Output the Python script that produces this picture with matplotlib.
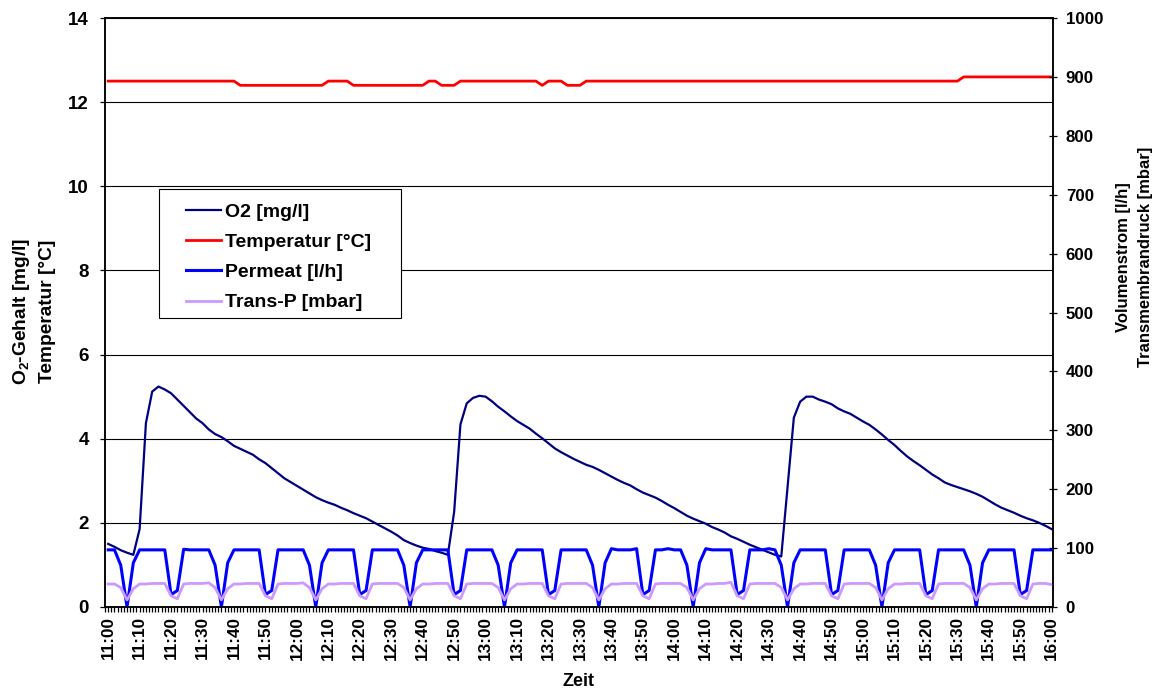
import matplotlib
matplotlib.use('Agg')
import matplotlib.pyplot as plt
import numpy as np
from matplotlib.ticker import MultipleLocator
from matplotlib.patches import Rectangle

plt.rcParams['font.family'] = ['Liberation Sans', 'DejaVu Sans']
plt.rcParams['font.weight'] = 'bold'
plt.rcParams['mathtext.fontset'] = 'custom'
plt.rcParams['mathtext.rm'] = 'Liberation Sans:bold'
plt.rcParams['mathtext.default'] = 'rm'

# logger samples, minutes after 11:00 (every 2 min)
sample_minutes = np.arange(0, 301, 2)

o2 = [1.50, 1.43, 1.35, 1.29, 1.24, 1.85, 4.37, 5.12, 5.24, 5.17, 5.08, 4.93, 4.78, 4.63, 4.48,
      4.37, 4.22, 4.11, 4.04, 3.94, 3.83, 3.76, 3.69, 3.62, 3.51, 3.42, 3.30, 3.18, 3.06, 2.97,
      2.88, 2.79, 2.70, 2.61, 2.54, 2.48, 2.43, 2.36, 2.30, 2.23, 2.17, 2.11, 2.03, 1.95, 1.87,
      1.79, 1.70, 1.59, 1.52, 1.46, 1.41, 1.38, 1.33, 1.29, 1.24, 2.26, 4.34, 4.84, 4.97, 5.02,
      5.00, 4.89, 4.76, 4.65, 4.53, 4.42, 4.33, 4.24, 4.12, 4.01, 3.89, 3.77, 3.68, 3.60, 3.52,
      3.45, 3.38, 3.33, 3.26, 3.18, 3.10, 3.02, 2.95, 2.89, 2.80, 2.72, 2.66, 2.60, 2.52, 2.43,
      2.35, 2.26, 2.17, 2.10, 2.04, 1.98, 1.90, 1.84, 1.77, 1.68, 1.62, 1.55, 1.48, 1.42, 1.36,
      1.30, 1.24, 1.20, 2.85, 4.50, 4.88, 5.00, 5.00, 4.93, 4.88, 4.82, 4.72, 4.65, 4.59, 4.50,
      4.41, 4.33, 4.22, 4.10, 3.97, 3.85, 3.71, 3.58, 3.47, 3.37, 3.26, 3.15, 3.06, 2.96, 2.90,
      2.85, 2.80, 2.75, 2.69, 2.62, 2.53, 2.44, 2.36, 2.30, 2.24, 2.17, 2.11, 2.06, 2.00, 1.93,
      1.85]

permeat = [97, 97, 71, 0, 75, 97, 97, 97, 97, 97, 21, 28, 98, 97, 97,
           97, 97, 71, 0, 75, 97, 97, 97, 97, 97, 21, 28, 97, 97, 97,
           97, 97, 71, 0, 75, 97, 97, 97, 97, 97, 21, 28, 97, 97, 97,
           97, 97, 71, 0, 75, 97, 97, 97, 97, 97, 21, 28, 97, 97, 97,
           97, 97, 71, 0, 75, 97, 97, 97, 97, 97, 21, 28, 97, 97, 97,
           97, 97, 71, 0, 75, 99, 97, 97, 97, 99, 21, 28, 97, 97, 99,
           97, 97, 71, 0, 75, 99, 97, 97, 97, 97, 21, 28, 97, 97, 97,
           99, 97, 71, 0, 75, 97, 97, 97, 97, 97, 21, 28, 97, 97, 97,
           97, 97, 71, 0, 75, 97, 97, 97, 97, 97, 21, 28, 97, 97, 97,
           97, 97, 71, 0, 75, 97, 97, 97, 97, 97, 21, 28, 97, 97, 97,
           97]

trans_p = [39, 39, 33, 12, 31, 39, 39, 40, 40, 40, 19, 14, 39, 40, 40,
           40, 41, 33, 12, 31, 39, 39, 40, 40, 40, 19, 14, 39, 40, 40,
           40, 41, 33, 12, 31, 39, 39, 40, 40, 40, 19, 14, 39, 40, 40,
           40, 40, 33, 12, 31, 39, 39, 40, 40, 40, 19, 14, 39, 40, 40,
           40, 40, 33, 12, 31, 39, 39, 40, 40, 40, 19, 14, 39, 40, 40,
           40, 40, 33, 12, 31, 39, 39, 40, 40, 40, 19, 14, 39, 40, 40,
           40, 40, 33, 12, 31, 39, 39, 40, 40, 42, 19, 14, 39, 40, 40,
           40, 40, 33, 12, 31, 39, 39, 40, 40, 40, 19, 14, 39, 40, 40,
           40, 40, 33, 12, 31, 39, 39, 40, 40, 40, 19, 14, 39, 40, 40,
           40, 40, 33, 12, 31, 39, 39, 40, 40, 40, 19, 14, 39, 40, 40,
           38]

temp_minutes = [0, 40, 42, 68, 70, 76, 78, 100, 102, 104, 106, 110, 112,
                136, 138, 140, 144, 146, 150, 152, 270, 272, 300]
temp_values = [12.5, 12.5, 12.4, 12.4, 12.5, 12.5, 12.4, 12.4, 12.5, 12.5, 12.4, 12.4, 12.5,
               12.5, 12.4, 12.5, 12.5, 12.4, 12.4, 12.5, 12.5, 12.6, 12.6]

tick_minutes = np.arange(0, 301, 10)
tick_labels = ['11:00', '11:10', '11:20', '11:30', '11:40', '11:50',
               '12:00', '12:10', '12:20', '12:30', '12:40', '12:50',
               '13:00', '13:10', '13:20', '13:30', '13:40', '13:50',
               '14:00', '14:10', '14:20', '14:30', '14:40', '14:50',
               '15:00', '15:10', '15:20', '15:30', '15:40', '15:50', '16:00']

fig = plt.figure(figsize=(11.63, 6.9), dpi=100)
ax = fig.add_axes([0.0903, 0.1203, 0.8154, 0.8536])

ax.yaxis.grid(True, color='black', lw=0.8)
l1, = ax.plot(sample_minutes, o2, color='#000080', lw=1.6, label='O2 [mg/l]')
l2, = ax.plot(temp_minutes, temp_values, color='#FF0000', lw=2.0, label='Temperatur [°C]')

ax2 = ax.twinx()
l3, = ax2.plot(sample_minutes, permeat, color='#0000FF', lw=2.2, label='Permeat [l/h]')
l4, = ax2.plot(sample_minutes, trans_p, color='#CC99FF', lw=2.0, label='Trans-P [mbar]')

ax.set_xlim(-1, 300.5)
ax.set_ylim(0, 14)
ax2.set_ylim(0, 1000)
ax.set_yticks(range(0, 15, 2))
ax2.set_yticks(range(0, 1001, 100))
ax.set_xticks(tick_minutes)
ax.set_xticklabels(tick_labels, rotation=90)
ax.xaxis.set_minor_locator(MultipleLocator(1))

for a in (ax, ax2):
    for s in a.spines.values():
        s.set_linewidth(1.1)
        s.set_color('black')

ax.tick_params(axis='both', which='both', direction='out', length=3.6, width=0.9)
ax.tick_params(axis='y', pad=8, labelsize=13.5)
ax.tick_params(axis='x', pad=3, labelsize=12.3)
ax2.tick_params(axis='y', direction='inout', length=6, width=0.9, pad=6, labelsize=12.2)

# legend box
frame = Rectangle((0.0573, 0.4902), 0.2543, 0.219, transform=ax2.transAxes,
                  facecolor='white', edgecolor='black', lw=0.8, zorder=4)
ax2.add_patch(frame)
leg = ax2.legend([l1, l2, l3, l4], [l.get_label() for l in (l1, l2, l3, l4)],
                 loc='upper left', bbox_to_anchor=(0.0854, 0.686), borderaxespad=0,
                 borderpad=0, frameon=False, fontsize=14, handlelength=1.8,
                 handletextpad=0.2, labelspacing=0.65)
leg.set_zorder(5)

fig.text(0.0288, 0.5486, 'O$_2$-Gehalt [mg/l]\nTemperatur [°C]', rotation=90,
         ha='center', va='center', multialignment='center', fontsize=13.8, linespacing=1.5)
fig.text(0.9756, 0.6275, 'Volumenstrom [l/h]\nTransmembrandruck [mbar]', rotation=90,
         ha='center', va='center', multialignment='center', fontsize=12, linespacing=1.6)
fig.text(0.4977, 0.013, 'Zeit', ha='center', va='center', fontsize=13)

fig.savefig('out.png', dpi=100)
